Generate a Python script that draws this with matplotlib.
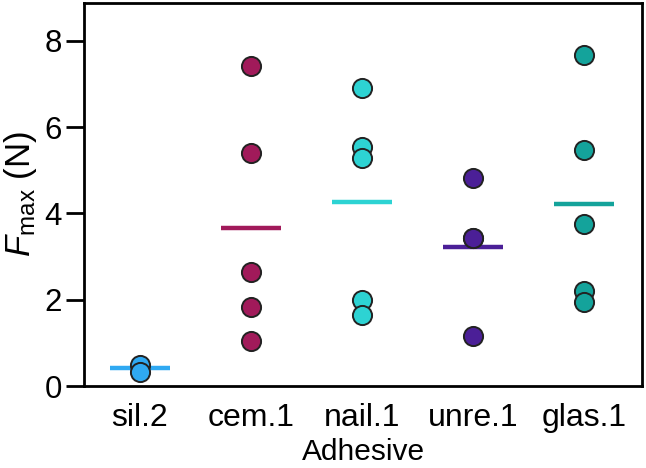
import matplotlib
matplotlib.use("Agg")
import matplotlib.pyplot as plt

plt.rcParams["font.family"] = ["Liberation Sans", "DejaVu Sans"]
plt.rcParams["mathtext.fontset"] = "custom"
plt.rcParams["mathtext.rm"] = "Liberation Sans"
plt.rcParams["mathtext.it"] = "Liberation Sans:italic"

# data
adhesives = ["sil.2", "cem.1", "nail.1", "unre.1", "glas.1"]
sil2 = [0.50, 0.33]
cem1 = [7.42, 5.41, 2.64, 1.83, 1.04]
nail1 = [6.91, 5.55, 5.29, 1.99, 1.64]
unre1 = [4.83, 3.44, 3.44, 1.16]
glas1 = [7.68, 5.48, 3.75, 2.20, 1.94]
values = [sil2, cem1, nail1, unre1, glas1]
colors = ["#2fa9f2", "#a11a5a", "#2dd3d3", "#4b1f97", "#14a39b"]

fig = plt.figure(figsize=(6.46, 4.68), dpi=100)
ax = fig.add_axes([0.130, 0.175, 0.864, 0.819])

for i, (vals, c) in enumerate(zip(values, colors)):
    mean = sum(vals) / len(vals)
    ax.plot([i - 0.27, i + 0.27], [mean, mean], color=c, lw=3.2,
            solid_capstyle="butt", zorder=2)
    ax.scatter([i] * len(vals), vals, s=190, color=c, edgecolor="#222222",
               linewidth=1.4, zorder=3)

ax.set_xlim(-0.5, 4.52)
ax.set_ylim(0, 8.88)
ax.set_xticks(range(len(adhesives)))
ax.set_xticklabels(adhesives)
ax.set_yticks([0, 2, 4, 6, 8])
ax.tick_params(axis="x", length=0, pad=12, labelsize=23)
ax.tick_params(axis="y", length=13, width=2, labelsize=22.5, pad=3)
for s in ax.spines.values():
    s.set_linewidth(2)
ax.set_xlabel("Adhesive", fontsize=21.5, labelpad=4)
ax.set_ylabel(r"$F_{\mathrm{max}}$ (N)", fontsize=25, labelpad=4)

fig.savefig("out.png", dpi=100)
